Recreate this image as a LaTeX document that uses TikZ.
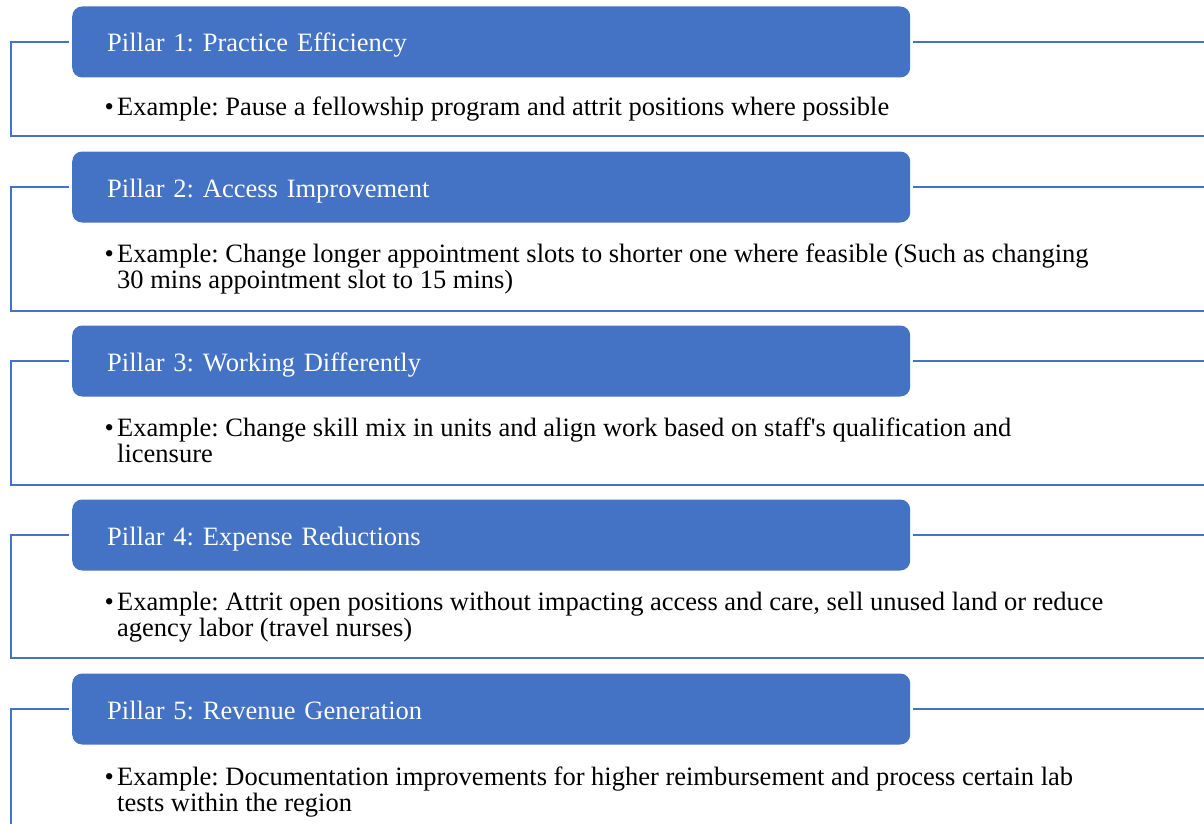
\documentclass[tikz,border=0pt]{standalone}
\usepackage{fontspec}
\setmainfont{Liberation Serif}
\definecolor{pillarblue}{HTML}{4472C4}
\frenchspacing
\begin{document}
\begin{tikzpicture}[x=1pt,y=-1pt,
  txt/.style={font=\fontsize{26.5}{26.5}\selectfont},
  header/.style={txt, fill=pillarblue, rounded corners=10pt, draw=none,
    minimum width=838pt, minimum height=71pt, anchor=west,
    inner xsep=35pt, inner ysep=0pt, text width=768pt, align=left,
    text height=21pt, text depth=1pt, text=white},
  frame/.style={draw=pillarblue, line width=2pt},
  bulletmark/.style={txt, anchor=base east, inner sep=0pt},
  bodytext/.style={txt, anchor=base west, inner sep=0pt}]
\useasboundingbox (0,0) rectangle (1204,824);
\fill[white] (0,0) rectangle (1204,824);
\clip (0,0) rectangle (1204,824);

% frame corners (left / right, bottom) of each pillar
\foreach \i/\ybot in {1/136, 2/311, 3/485, 4/658, 5/840}{
  \coordinate (bl\i) at (11,\ybot);
  \coordinate (br\i) at (1214,\ybot);
}

% pillar headers
\node[header] (h1) at (72,42)  {Pillar 1: Practice Efficiency};
\node[header] (h2) at (72,187) {Pillar 2: Access Improvement};
\node[header] (h3) at (72,361) {Pillar 3: Working Differently};
\node[header] (h4) at (72,535) {Pillar 4: Expense Reductions};
\node[header] (h5) at (72,709) {Pillar 5: Revenue Generation};

% frames around each pillar
\foreach \i in {1,...,5}{
  \draw[frame] ([xshift=-3pt]h\i.west) -| (bl\i) -- (br\i) |- ([xshift=3pt]h\i.east);
}

% examples (first baseline of each block sits at the node position)
\node[bulletmark] (m1) at (114,116) {\textbullet};
\node[bodytext] (e1) at (117,116) {Example: Pause a fellowship program and attrit positions where possible};

\node[bulletmark] (m2) at (114,262) {\textbullet};
\node[bodytext] (e2) at (117,262) {\begin{tabular}[t]{@{}l@{}}Example: Change longer appointment slots to shorter one where feasible (Such as changing\\30 mins appointment slot to 15 mins)\end{tabular}};

\node[bulletmark] (m3) at (114,436) {\textbullet};
\node[bodytext] (e3) at (117,436) {\begin{tabular}[t]{@{}l@{}}Example: Change skill mix in units and align work based on staff\textquotesingle s qualification and\\licensure\end{tabular}};

\node[bulletmark] (m4) at (114,610) {\textbullet};
\node[bodytext] (e4) at (117,610) {\begin{tabular}[t]{@{}l@{}}Example: Attrit open positions without impacting access and care, sell unused land or reduce\\agency labor (travel nurses)\end{tabular}};

\node[bulletmark] (m5) at (114,785) {\textbullet};
\node[bodytext] (e5) at (117,785) {\begin{tabular}[t]{@{}l@{}}Example: Documentation improvements for higher reimbursement and process certain lab\\tests within the region\end{tabular}};
\end{tikzpicture}
\end{document}
